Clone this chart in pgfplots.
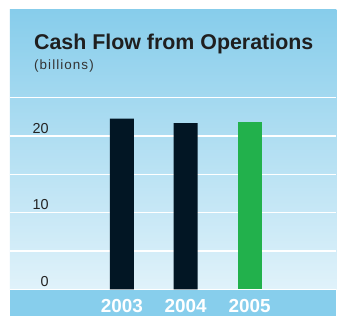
\documentclass[border=0pt]{standalone}
\usepackage{pgfplots}
\pgfplotsset{compat=1.18}
\usepackage{fontspec}
\setmainfont{Liberation Sans}
\definecolor{paneltop}{RGB}{135,205,235}
\definecolor{panelbot}{RGB}{224,242,250}
\definecolor{band}{RGB}{135,206,236}
\definecolor{navy}{RGB}{2,22,36}
\definecolor{cgreen}{RGB}{34,177,76}
\definecolor{tickgray}{RGB}{35,35,35}
\begin{document}
\begin{tikzpicture}[x=1bp,y=1bp]
\fill[white] (0,0) rectangle (337,317);
\shade[top color=paneltop, bottom color=panelbot] (10,27) rectangle (337,307);
\fill[band] (10,0) rectangle (337,27);
\node[anchor=base west, inner sep=0, font=\fontsize{21.5}{24}\selectfont\bfseries, text=black!88] at (34,267) {Cash Flow from Operations};
\node[anchor=base west, inner sep=0, font=\fontsize{13.5}{15}\selectfont\addfontfeature{LetterSpace=8}, text=black!80] at (34,247) {(billions)};
\begin{axis}[
  at={(10bp,27bp)}, anchor=south west,
  scale only axis, width=327bp, height=192bp,
  xmin=-1.75, xmax=3.359, ymin=0, ymax=25,
  axis line style={draw=none},
  ybar, bar width=24bp, bar shift=0pt,
  ytick={0,5,10,15,20,25},
  yticklabels={0,,10,,20,},
  ymajorgrids, major grid style={white, line width=1.3bp},
  yticklabel style={anchor=base east, inner sep=0, xshift=39bp, yshift=3bp, font=\fontsize{14.5}{16}\selectfont, text=tickgray},
  /pgf/number format/assume math mode=true,
  xtick={0,1,2}, xticklabels={2003,2004,2005},
  xticklabel style={anchor=base, inner sep=0, yshift=-19bp, font=\fontsize{19}{21}\selectfont\bfseries, text=white},
  tick style={draw=none},
  clip=false,
]
\addplot[fill=navy, draw=none] coordinates {(0,22.3) (1,21.7)};
\addplot[fill=cgreen, draw=none] coordinates {(2,21.8)};
\end{axis}
\end{tikzpicture}
\end{document}
